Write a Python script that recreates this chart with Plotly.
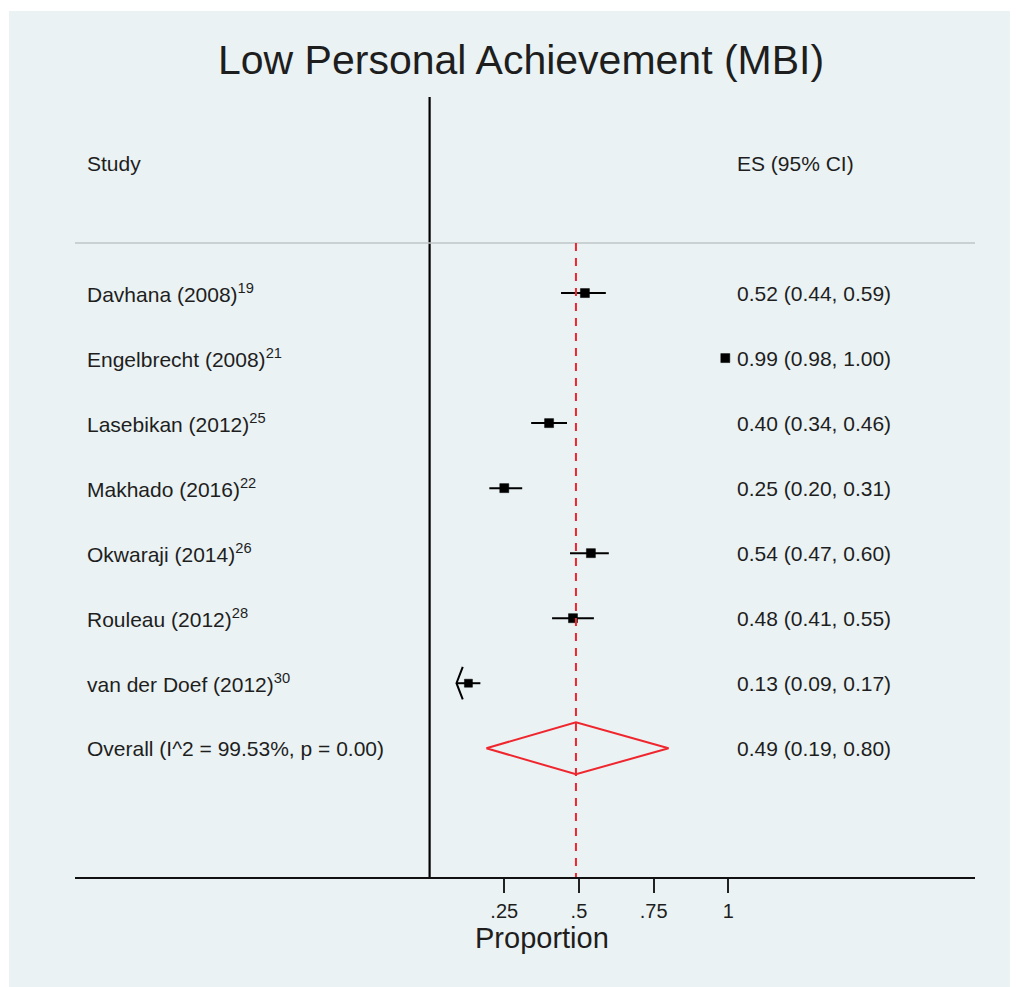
import plotly.graph_objects as go

# ---------------- data ----------------
studies = ["Davhana (2008)", "Engelbrecht (2008)", "Lasebikan (2012)", "Makhado (2016)",
           "Okwaraji (2014)", "Rouleau (2012)", "van der Doef (2012)"]
refs = ["19", "21", "25", "22", "26", "28", "30"]
es = [0.52, 0.99, 0.40, 0.25, 0.54, 0.48, 0.13]
ci_lo = [0.44, 0.98, 0.34, 0.20, 0.47, 0.41, 0.09]
ci_hi = [0.59, 1.00, 0.46, 0.31, 0.60, 0.55, 0.17]
overall_label = "Overall (I^2 = 99.53%, p = 0.00)"
overall_es, overall_lo, overall_hi = 0.49, 0.19, 0.80
tick_vals = [0.25, 0.5, 0.75, 1]
tick_text = [".25", ".5", ".75", "1"]
truncated_low = [False, False, False, False, False, False, True]

# ---------------- style / layout ----------------
OFF = 8                      # page body margin
W, H = 1018 - OFF, 987 - OFF
# plot region in page px (reference coordinates)
L, R, T, B = 75, 975, 97, 877
BG = "#EAF2F3"
FONT = "Liberation Sans, Arial, Helvetica, sans-serif"
TXT = "#1e1e1e"
RED = "#F0262E"
box_sizes = [9, 9, 9, 9, 9, 9, 8]

def px(xp):
    return (xp - L) / (R - L)

def py(yp):
    return (B - yp) / (B - T)

rows = list(range(len(studies)))
overall_row = len(studies)
header_row = -2
sep_row = -0.77

fig = go.Figure()

# CI lines
lx, ly = [], []
for r, lo, hi in zip(rows, ci_lo, ci_hi):
    lx += [lo, hi, None]
    ly += [r, r, None]
fig.add_trace(go.Scatter(x=lx, y=ly, mode="lines", line=dict(color="black", width=2),
                         hoverinfo="skip", showlegend=False))

# arrows for truncated CIs
ax, ay = [], []
for r, lo, t in zip(rows, ci_lo, truncated_low):
    if t:
        ax += [lo + 0.021, lo, lo + 0.021, None]
        ay += [r - 0.25, r, r + 0.25, None]
fig.add_trace(go.Scatter(x=ax, y=ay, mode="lines", line=dict(color="black", width=2),
                         hoverinfo="skip", showlegend=False))

# point estimates
fig.add_trace(go.Scatter(x=es, y=rows, mode="markers",
                         marker=dict(symbol="square", size=box_sizes, color="black",
                                     opacity=1, line=dict(width=0.5, color="black")),
                         showlegend=False))

# overall diamond
fig.add_trace(go.Scatter(x=[overall_lo, overall_es, overall_hi, overall_es, overall_lo],
                         y=[overall_row, overall_row - 0.4, overall_row, overall_row + 0.4, overall_row],
                         mode="lines", line=dict(color=RED, width=2),
                         hoverinfo="skip", showlegend=False))

shapes = [
    # background panel
    dict(type="rect", xref="paper", yref="paper", x0=px(9), x1=px(1030), y0=py(1000), y1=py(11),
         fillcolor=BG, line=dict(width=0), layer="below"),
    # null line at 0
    dict(type="line", xref="x", yref="paper", x0=0, x1=0, y0=0, y1=1,
         line=dict(color="black", width=2.2)),
    # separator
    dict(type="line", xref="paper", yref="y", x0=0, x1=1, y0=sep_row, y1=sep_row,
         line=dict(color="#BFC6C8", width=1.5)),
    # overall dashed line
    dict(type="line", xref="x", yref="y", x0=overall_es, x1=overall_es, y0=sep_row, y1=8.98,
         line=dict(color=RED, width=2, dash="8px,7px")),
]

ann = []
def text(xpx, yrow, s, size=21, anchor="left", yref="y"):
    ann.append(dict(x=px(xpx - 2), xref="paper", y=yrow, yref=yref, text=s, showarrow=False,
                    xanchor=anchor, yanchor="middle", font=dict(family=FONT, size=size, color=TXT)))

ann.append(dict(x=px(521), y=py(60), xref="paper", yref="paper", text="Low Personal Achievement (MBI)",
                showarrow=False, xanchor="center", yanchor="middle",
                font=dict(family=FONT, size=41, color=TXT)))
text(87, header_row, "Study")
text(737, header_row, "ES (95% CI)")
for r, s, ref, e, lo, hi in zip(rows, studies, refs, es, ci_lo, ci_hi):
    text(87, r, f"{s}<sup>{ref}</sup>")
    text(737, r, f"{e:.2f} ({lo:.2f}, {hi:.2f})")
text(87, overall_row, overall_label)
text(737, overall_row, f"{overall_es:.2f} ({overall_lo:.2f}, {overall_hi:.2f})")
ann.append(dict(x=px(541.5), y=py(938), xref="paper", yref="paper", text="Proportion",
                showarrow=False, xanchor="center", yanchor="middle",
                font=dict(family=FONT, size=29, color=TXT)))

x_lo = (L - 429.6) / 298.7
x_hi = (R - 429.6) / 298.7

fig.update_layout(
    width=W, height=H,
    margin=dict(l=L - OFF, r=W - (R - OFF), t=T - OFF, b=H - (B - OFF), pad=0),
    paper_bgcolor="white", plot_bgcolor=BG,
    shapes=shapes, annotations=ann,
    xaxis=dict(range=[x_lo, x_hi], tickvals=tick_vals, ticktext=tick_text,
               ticks="outside", ticklen=14, tickwidth=1.5, tickcolor="#222",
               showline=True, linecolor="#111", linewidth=1.8,
               showgrid=False, zeroline=False, fixedrange=True,
               tickfont=dict(family=FONT, size=20, color=TXT), ticklabelstandoff=1),
    yaxis=dict(range=[8.98, -3.015], visible=False, showgrid=False, zeroline=False, fixedrange=True),
    showlegend=False,
)

fig.write_html("out.html")
